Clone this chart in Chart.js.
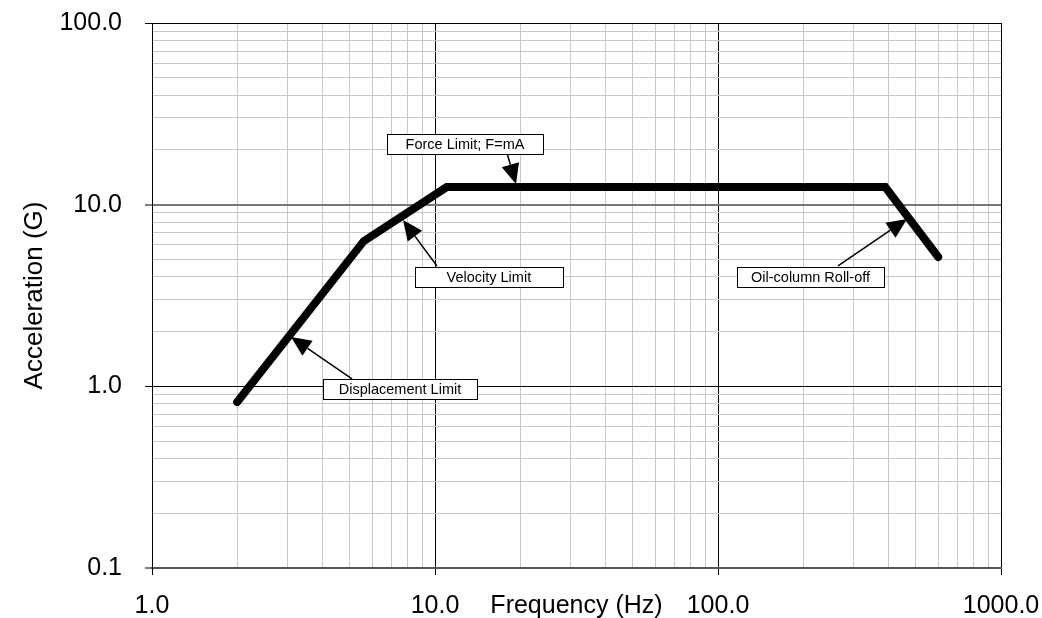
<!DOCTYPE html>
<html>
<head>
<meta charset="utf-8">
<script src="https://cdn.jsdelivr.net/npm/chart.js@4/dist/chart.umd.min.js"></script>
<style>
  body { margin: 0; background: #fff; }
  canvas { display: block; }
</style>
</head>
<body>
<canvas id="chart" width="1042" height="618"></canvas>
<script>
// curve (frequency in Hz, acceleration in G)
const freq = [2.0, 5.6, 11, 390, 600];
const accel = [0.82, 6.3, 12.5, 12.5, 5.15];

// tick values (decades get labels, the rest are minor grid lines)
const xTicks = [1, 2, 3, 4, 5, 6, 7, 8, 9, 10, 20, 30, 40, 50, 60, 70, 80, 90, 100, 200, 300, 400, 500, 600, 700, 800, 900, 1000];
const yTicks = [0.1, 0.2, 0.3, 0.4, 0.5, 0.6, 0.7, 0.8, 0.9, 1, 2, 3, 4, 5, 6, 7, 8, 9, 10, 20, 30, 40, 50, 60, 70, 80, 90, 100];

// callouts: label, box centre, arrow tail, arrow tip (all in data units)
const noteText = ["Force Limit; F=mA", "Velocity Limit", "Displacement Limit", "Oil-column Roll-off"];
const noteBoxX = [12.76, 15.5, 7.52, 212.3];
const noteBoxY = [21.7, 4.02, 0.961, 4.02];
const noteTailX = [17.96, 10.16, 5.09, 265.5];
const noteTailY = [19.25, 4.60, 1.10, 4.60];
const noteTipX = [19.33, 7.71, 3.10, 465.4];
const noteTipY = [13.0, 8.23, 1.87, 8.34];
const noteBoxW = [156, 148, 154, 147];

const FONT = "'Liberation Sans', Arial, sans-serif";
const isDecade = v => Math.abs(Math.log10(v) - Math.round(Math.log10(v))) < 1e-9;

const callouts = {
    id: 'callouts',
    afterDatasetsDraw(chart) {
        const ctx = chart.ctx;
        const xs = chart.scales.x, ys = chart.scales.y;
        ctx.save();
        for (let i = 0; i < noteText.length; i++) {
            const tx = xs.getPixelForValue(noteTailX[i]), ty = ys.getPixelForValue(noteTailY[i]);
            const px = xs.getPixelForValue(noteTipX[i]), py = ys.getPixelForValue(noteTipY[i]);
            const ang = Math.atan2(py - ty, px - tx);
            const len = 20, half = 9;
            const bx = px - len * Math.cos(ang), by = py - len * Math.sin(ang);
            // shaft
            ctx.strokeStyle = '#000';
            ctx.lineWidth = 1.5;
            ctx.beginPath();
            ctx.moveTo(tx, ty);
            ctx.lineTo(bx, by);
            ctx.stroke();
            // head
            ctx.fillStyle = '#000';
            ctx.beginPath();
            ctx.moveTo(px, py);
            ctx.lineTo(bx + half * Math.sin(ang), by - half * Math.cos(ang));
            ctx.lineTo(bx - half * Math.sin(ang), by + half * Math.cos(ang));
            ctx.closePath();
            ctx.fill();
            // label box
            const cx = xs.getPixelForValue(noteBoxX[i]), cy = ys.getPixelForValue(noteBoxY[i]);
            const w = noteBoxW[i], h = 20;
            const x0 = Math.round(cx - w / 2) + 0.5, y0 = Math.round(cy - h / 2) + 0.5;
            ctx.fillStyle = '#fff';
            ctx.fillRect(x0, y0, w, h);
            ctx.lineWidth = 1;
            ctx.strokeRect(x0, y0, w, h);
            ctx.fillStyle = '#000';
            ctx.font = '14.5px ' + FONT;
            ctx.textAlign = 'center';
            ctx.textBaseline = 'middle';
            ctx.fillText(noteText[i], cx, cy + 1);
        }
        ctx.restore();
    }
};

new Chart(document.getElementById('chart'), {
    type: 'line',
    data: {
        datasets: [{
            data: freq.map((f, i) => ({ x: f, y: accel[i] })),
            borderColor: '#000',
            borderWidth: 8,
            borderCapStyle: 'round',
            borderJoinStyle: 'miter',
            pointRadius: 0,
            tension: 0,
            fill: false
        }]
    },
    options: {
        responsive: false,
        animation: false,
        layout: { padding: { top: 23, right: 41, left: 0, bottom: 0 } },
        plugins: { legend: { display: false }, tooltip: { enabled: false } },
        scales: {
            x: {
                type: 'logarithmic',
                min: 1,
                max: 1000,
                afterBuildTicks: s => { s.ticks = xTicks.map(v => ({ value: v })); },
                afterFit: s => { s.height = 50; s.paddingLeft = 0; s.paddingRight = 0; },
                ticks: {
                    autoSkip: false,
                    maxRotation: 0,
                    padding: 16,
                    color: '#000',
                    font: { family: FONT, size: 25 },
                    callback: v => isDecade(v) ? Number(v).toFixed(1) : ''
                },
                grid: {
                    color: c => isDecade(c.tick.value) ? '#000' : '#c8c8c8',
                    lineWidth: 1,
                    tickLength: 7,
                    tickWidth: 1,
                    tickColor: c => isDecade(c.tick.value) ? '#000' : 'rgba(0,0,0,0)'
                },
                border: { color: '#555', width: 2 },
                title: {
                    display: true,
                    text: 'Frequency (Hz)',
                    color: '#000',
                    font: { family: FONT, size: 25 },
                    padding: { top: 0, bottom: -3 }
                }
            },
            y: {
                type: 'logarithmic',
                min: 0.1,
                max: 100,
                afterBuildTicks: s => { s.ticks = yTicks.map(v => ({ value: v })); },
                afterFit: s => { s.width = 152; s.paddingTop = 0; s.paddingBottom = 0; },
                ticks: {
                    autoSkip: false,
                    padding: 23,
                    color: '#000',
                    font: { family: FONT, size: 25 },
                    callback: v => isDecade(v) ? Number(v).toFixed(1) : ''
                },
                grid: {
                    color: c => {
                        const v = c.tick.value;
                        if (!isDecade(v)) return '#c8c8c8';
                        if (Math.abs(v - 10) < 1e-9) return '#777';
                        if (Math.abs(v - 0.1) < 1e-9) return '#555';
                        return '#000';
                    },
                    lineWidth: c => (Math.abs(c.tick.value - 10) < 1e-9 || Math.abs(c.tick.value - 0.1) < 1e-9) ? 2 : 1,
                    tickLength: 7,
                    tickWidth: 1,
                    tickColor: c => isDecade(c.tick.value) ? '#000' : 'rgba(0,0,0,0)'
                },
                border: { color: '#000', width: 1 },
                title: {
                    display: true,
                    text: 'Acceleration (G)',
                    color: '#000',
                    font: { family: FONT, size: 26 },
                    padding: { top: 19, bottom: 0 }
                }
            }
        }
    },
    plugins: [callouts]
});
</script>
</body>
</html>
